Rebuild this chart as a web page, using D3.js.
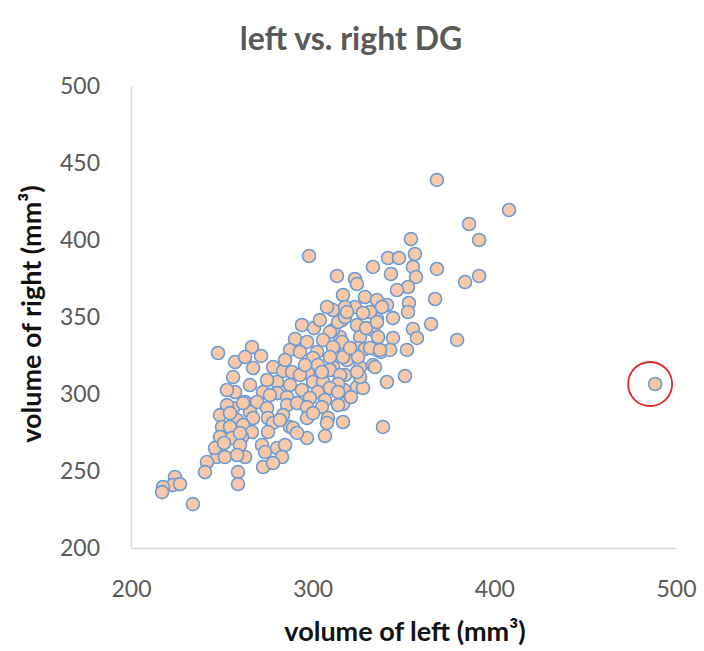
<!DOCTYPE html>
<html>
<head>
<meta charset="utf-8">
<script src="https://cdn.jsdelivr.net/npm/d3@7"></script>
<style>
  html, body { margin: 0; padding: 0; background: #ffffff; }
  svg { display: block; }
</style>
</head>
<body>
<svg id="chart" width="704" height="651"></svg>
<script>
// ---- data ----
const titleText = "left vs. right DG";
const xTitle = "volume of left (mm³)";
const yTitle = "volume of right (mm³)";
const xTicks = [200, 300, 400, 500];
const yTicks = [200, 250, 300, 350, 400, 450, 500];

const leftVol = [
  368.4, 408.1, 386.1, 391.6, 354.1, 341.5, 347.5, 356.3, 333.2, 368.4,
  355.2, 343.1, 356.9, 383.9, 391.6, 352.5, 346.4, 313.4, 323.3, 324.4,
  316.7, 328.8, 335.4, 340.9, 353.0, 352.5, 367.4, 365.2, 355.2, 357.4,
  344.2, 379.5, 351.9, 340.9, 350.8, 344.2, 335.4, 323.3, 324.4, 333.2,
  331.6, 316.2, 315.1, 326.1, 336.0, 337.6, 325.0, 318.4, 318.9, 326.1,
  333.2, 317.8, 324.4, 327.7, 317.3, 316.7, 321.1, 311.2, 311.2, 311.2,
  338.7, 316.7, 298.0, 307.9, 294.1, 300.7, 309.5, 314.0, 317.8, 327.7,
  329.4, 290.3, 296.9, 305.7, 316.2, 328.8, 342.6, 287.5, 293.0, 302.4,
  311.2, 316.7, 325.0, 247.9, 266.6, 271.6, 257.3, 262.8, 267.2, 256.2,
  278.2, 283.7, 288.6, 300.2, 309.5, 302.9, 297.4, 293.0, 300.2, 309.5,
  315.1, 305.7, 314.0, 287.5, 280.4, 274.9, 272.7, 265.5, 257.3, 262.8,
  269.4, 280.4, 285.9, 294.1, 302.9, 309.5, 298.5, 306.8, 314.0, 256.2,
  265.5, 274.9, 285.9, 291.4, 296.9, 305.1, 314.0, 258.4, 267.2, 275.4,
  283.7, 296.9, 308.4, 287.5, 278.2, 252.8, 252.8, 249.0, 254.5, 250.1,
  254.5, 261.7, 266.6, 261.1, 249.0, 255.6, 272.1, 273.8, 280.4, 284.8,
  260.0, 262.8, 247.3, 251.7, 246.2, 241.8, 240.7, 258.4, 283.1, 272.7,
  278.2, 258.9, 258.9, 224.2, 223.1, 227.0, 217.6, 217.1, 234.1, 289.2,
  296.9, 306.8, 291.4, 307.9, 300.2, 282.0, 334.3, 335.4, 260.0, 275.4,
  261.7, 251.2, 317.8, 318.9, 331.6, 326.1, 338.2, 335.4, 320.6, 337.1,
  324.4, 304.0, 284.8, 295.8, 305.1, 276.5, 488.5
];
const rightVol = [
  439.0, 419.5, 410.4, 400.0, 400.6, 388.3, 388.3, 390.9, 382.5, 381.2,
  382.5, 377.9, 376.0, 372.7, 376.6, 369.5, 367.5, 376.6, 374.7, 371.4,
  364.3, 363.0, 361.0, 357.8, 359.1, 353.2, 361.7, 345.4, 342.2, 336.4,
  336.4, 335.1, 328.6, 307.8, 311.7, 349.3, 348.7, 356.5, 344.8, 341.5,
  353.2, 348.0, 337.0, 337.0, 337.0, 327.3, 329.9, 329.9, 322.1, 317.5,
  318.8, 312.3, 304.5, 303.9, 302.6, 293.5, 298.0, 317.5, 341.5, 354.5,
  278.6, 281.8, 389.6, 356.5, 344.8, 342.8, 340.2, 346.7, 350.0, 352.6,
  342.8, 335.7, 333.8, 335.1, 333.8, 329.2, 328.6, 328.6, 327.3, 327.3,
  330.5, 324.0, 324.0, 326.6, 330.5, 324.7, 320.8, 324.0, 316.9, 311.0,
  317.5, 314.9, 314.3, 323.4, 324.0, 318.8, 313.6, 312.3, 307.8, 315.6,
  312.3, 307.8, 306.5, 305.8, 307.8, 309.1, 301.3, 305.8, 301.3, 294.8,
  294.8, 300.6, 298.0, 302.6, 301.3, 303.9, 297.4, 296.1, 301.3, 290.9,
  288.3, 290.9, 292.8, 294.1, 291.5, 291.5, 292.8, 283.1, 284.4, 284.4,
  286.3, 284.4, 284.4, 278.6, 281.2, 302.6, 292.8, 286.3, 287.6, 278.6,
  278.6, 279.9, 275.3, 272.1, 272.1, 271.4, 266.9, 262.3, 264.9, 266.9,
  266.9, 259.1, 259.1, 259.1, 264.9, 255.8, 249.3, 260.4, 259.1, 252.6,
  255.2, 249.3, 241.5, 246.1, 240.9, 241.5, 239.6, 236.3, 228.5, 277.9,
  271.4, 272.7, 274.7, 281.2, 287.6, 283.1, 317.5, 328.6, 274.7, 275.3,
  294.1, 268.2, 356.5, 353.2, 329.9, 311.0, 356.5, 346.7, 329.9, 328.6,
  314.3, 348.0, 322.1, 318.8, 314.3, 299.3, 306.5
];
const highlightIndex = rightVol.length - 1; // circled outlier

// ---- layout ----
const svg = d3.select("#chart");
const margin = { left: 131, right: 28, top: 86, bottom: 103 };
const W = 704, H = 651;

const x = d3.scaleLinear().domain([200, 500]).range([margin.left, W - margin.right]);
const y = d3.scaleLinear().domain([200, 500]).range([H - margin.bottom, margin.top]);

const font = "Lato, 'Noto Sans', sans-serif";

// title
svg.append("text")
  .attr("x", 351).attr("y", 50)
  .attr("text-anchor", "middle")
  .attr("font-family", font)
  .attr("font-weight", "bold")
  .attr("font-size", 32)
  .attr("fill", "#595959")
  .text(titleText);

// x axis
const xAxis = svg.append("g")
  .attr("transform", `translate(0,${y(200)})`)
  .call(d3.axisBottom(x).tickValues(xTicks).tickSize(0).tickSizeOuter(0).tickPadding(33).tickFormat(d3.format("d")));
xAxis.select(".domain").attr("stroke", "#d9d9d9").attr("stroke-width", 1.5);
xAxis.selectAll("text").attr("font-family", font).attr("font-size", 23).attr("fill", "#595959");

// y axis
const yAxis = svg.append("g")
  .attr("transform", `translate(${x(200)},0)`)
  .call(d3.axisLeft(y).tickValues(yTicks).tickSize(0).tickSizeOuter(0).tickPadding(31).tickFormat(d3.format("d")));
yAxis.select(".domain").attr("stroke", "#d9d9d9").attr("stroke-width", 1.5);
yAxis.selectAll("text").attr("font-family", font).attr("font-size", 23).attr("fill", "#595959");

// axis titles
svg.append("text")
  .attr("x", 405).attr("y", 641)
  .attr("text-anchor", "middle")
  .attr("font-family", font)
  .attr("font-weight", "bold")
  .attr("font-size", 27)
  .attr("fill", "#111")
  .text(xTitle);

svg.append("text")
  .attr("transform", `translate(41,${314}) rotate(-90)`)
  .attr("text-anchor", "middle")
  .attr("font-family", font)
  .attr("font-weight", "bold")
  .attr("font-size", 27)
  .attr("fill", "#111")
  .text(yTitle);

// points
const pts = leftVol.map((v, i) => ({ l: v, r: rightVol[i] }));
svg.append("g").selectAll("circle")
  .data(pts)
  .join("circle")
  .attr("cx", d => x(d.l))
  .attr("cy", d => y(d.r))
  .attr("r", 6.5)
  .attr("fill", "#f8c9a8")
  .attr("stroke", "#6b9bd2")
  .attr("stroke-width", 1.6);

// highlight ellipse around outlier
const hp = pts[highlightIndex];
svg.append("ellipse")
  .attr("cx", x(hp.l) - 5)
  .attr("cy", y(hp.r))
  .attr("rx", 22)
  .attr("ry", 22)
  .attr("fill", "none")
  .attr("stroke", "#e0262b")
  .attr("stroke-width", 1.8);
</script>
</body>
</html>
